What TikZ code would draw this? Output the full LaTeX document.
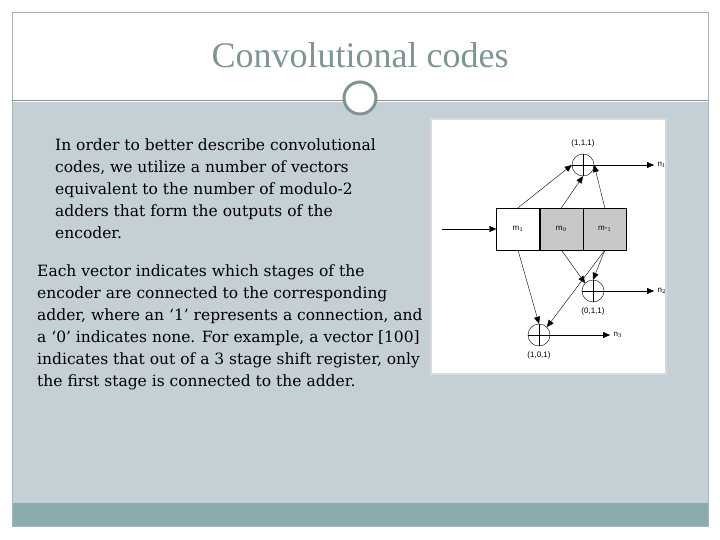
\documentclass[tikz,border=0pt]{standalone}
\usepackage{fontspec}
\setmainfont{Liberation Serif}
\setsansfont{Liberation Sans}
\newfontfamily\bodyfont{DejaVu Serif}
\usetikzlibrary{arrows.meta,positioning}
\definecolor{panel}{HTML}{C5D0D6}
\definecolor{band}{HTML}{8AACAC}
\definecolor{rim}{HTML}{7F9595}
\definecolor{cellgray}{HTML}{C8C8C8}

\begin{document}
\begin{tikzpicture}[x=1pt,y=-1pt,
    % Node styles
    cell/.style={draw, minimum width=43pt, minimum height=42pt, inner sep=0pt,
        font=\sffamily\footnotesize},
    adder/.style={circle, draw, minimum size=22pt, inner sep=0pt,
        path picture={\draw[thick] (path picture bounding box.north) -- (path picture bounding box.south)
            (path picture bounding box.west) -- (path picture bounding box.east);}},
    lbl/.style={font=\sffamily\footnotesize},
    wire/.style={draw, thin, -{Triangle[length=7pt,width=6pt]}},
    para/.style={anchor=north west, align=left, font=\bodyfont\fontsize{15.5}{22}\selectfont, inner sep=0pt},
  ]
  \useasboundingbox (0,0) rectangle (720,540);
  % --- slide background ---
  \fill[white] (0,0) rectangle (720,540);
  \fill[panel] (12,102) rectangle (708,503);
  \fill[band] (12,503) rectangle (708,526);
  \draw[rim!70] (12,12) rectangle (708,526);
  \draw[rim] (12,100) -- (708,100);
  \node[circle, draw=rim, line width=3pt, fill=white, minimum size=32pt] (knob) at (360,98) {};
  \node[text=rim, font=\fontsize{36}{36}\selectfont] (title) at (360,55) {Convolutional codes};

  % --- text ---
  \node[para] (intro) at (55,139) {In order to better describe convolutional\\codes, we utilize a number of vectors\\equivalent to the number of modulo-2\\adders that form the outputs of the\\encoder.};
  \node[para] (detail) at (37,265) {Each vector indicates which stages of the\\encoder are connected to the corresponding\\adder, where an ‘1’ represents a connection, and\\a ‘0’ indicates none. For example, a vector [100]\\indicates that out of a 3 stage shift register, only\\the first stage is connected to the adder.};

  % --- encoder ---
  \draw[white!85!black, fill=white, line width=2pt] (431,119) rectangle (666,374);
  \node[cell] (m1) at (518,229) {m$_1$};
  \node[cell, fill=cellgray, right=0pt of m1] (m0) {m$_0$};
  \node[cell, fill=cellgray, right=0pt of m0] (mm1) {m-$_1$};
  \coordinate (in) at (442,229);
  \draw[wire] (in) -- (m1.west);

  \node[adder] (a1) at (583,165) {};
  \node[adder] (a2) at (593,291) {};
  \node[adder] (a3) at (539,335) {};
  \node[lbl, above=3pt of a1] (v1) {(1,1,1)};
  \node[lbl, below=2pt of a2] (v2) {(0,1,1)};
  \node[lbl, below=2pt of a3] (v3) {(1,0,1)};
  \node[lbl, anchor=west] (n1) at (654,165) {n$_1$};
  \node[lbl, anchor=west] (n2) at (654,291) {n$_2$};
  \node[lbl, anchor=west] (n3) at (610,335) {n$_3$};
  \draw[wire] (a1.east) -- (n1.west);
  \draw[wire] (a2.east) -- (n2.west);
  \draw[wire] (a3.east) -- (n3.west);

  \draw[wire] (m1.north) -- (a1.west);
  \draw[wire] (m0.north) -- (a1.south);
  \draw[wire] (mm1.north) -- (a1.east);
  \draw[wire] (m1.south) -- (a3.north);
  \draw[wire] (m0.south) -- (a2.north west);
  \draw[wire] (mm1.south) -- (a2.north);
  \draw[wire] (mm1.south) -- (a3.north east);
\end{tikzpicture}
\end{document}
